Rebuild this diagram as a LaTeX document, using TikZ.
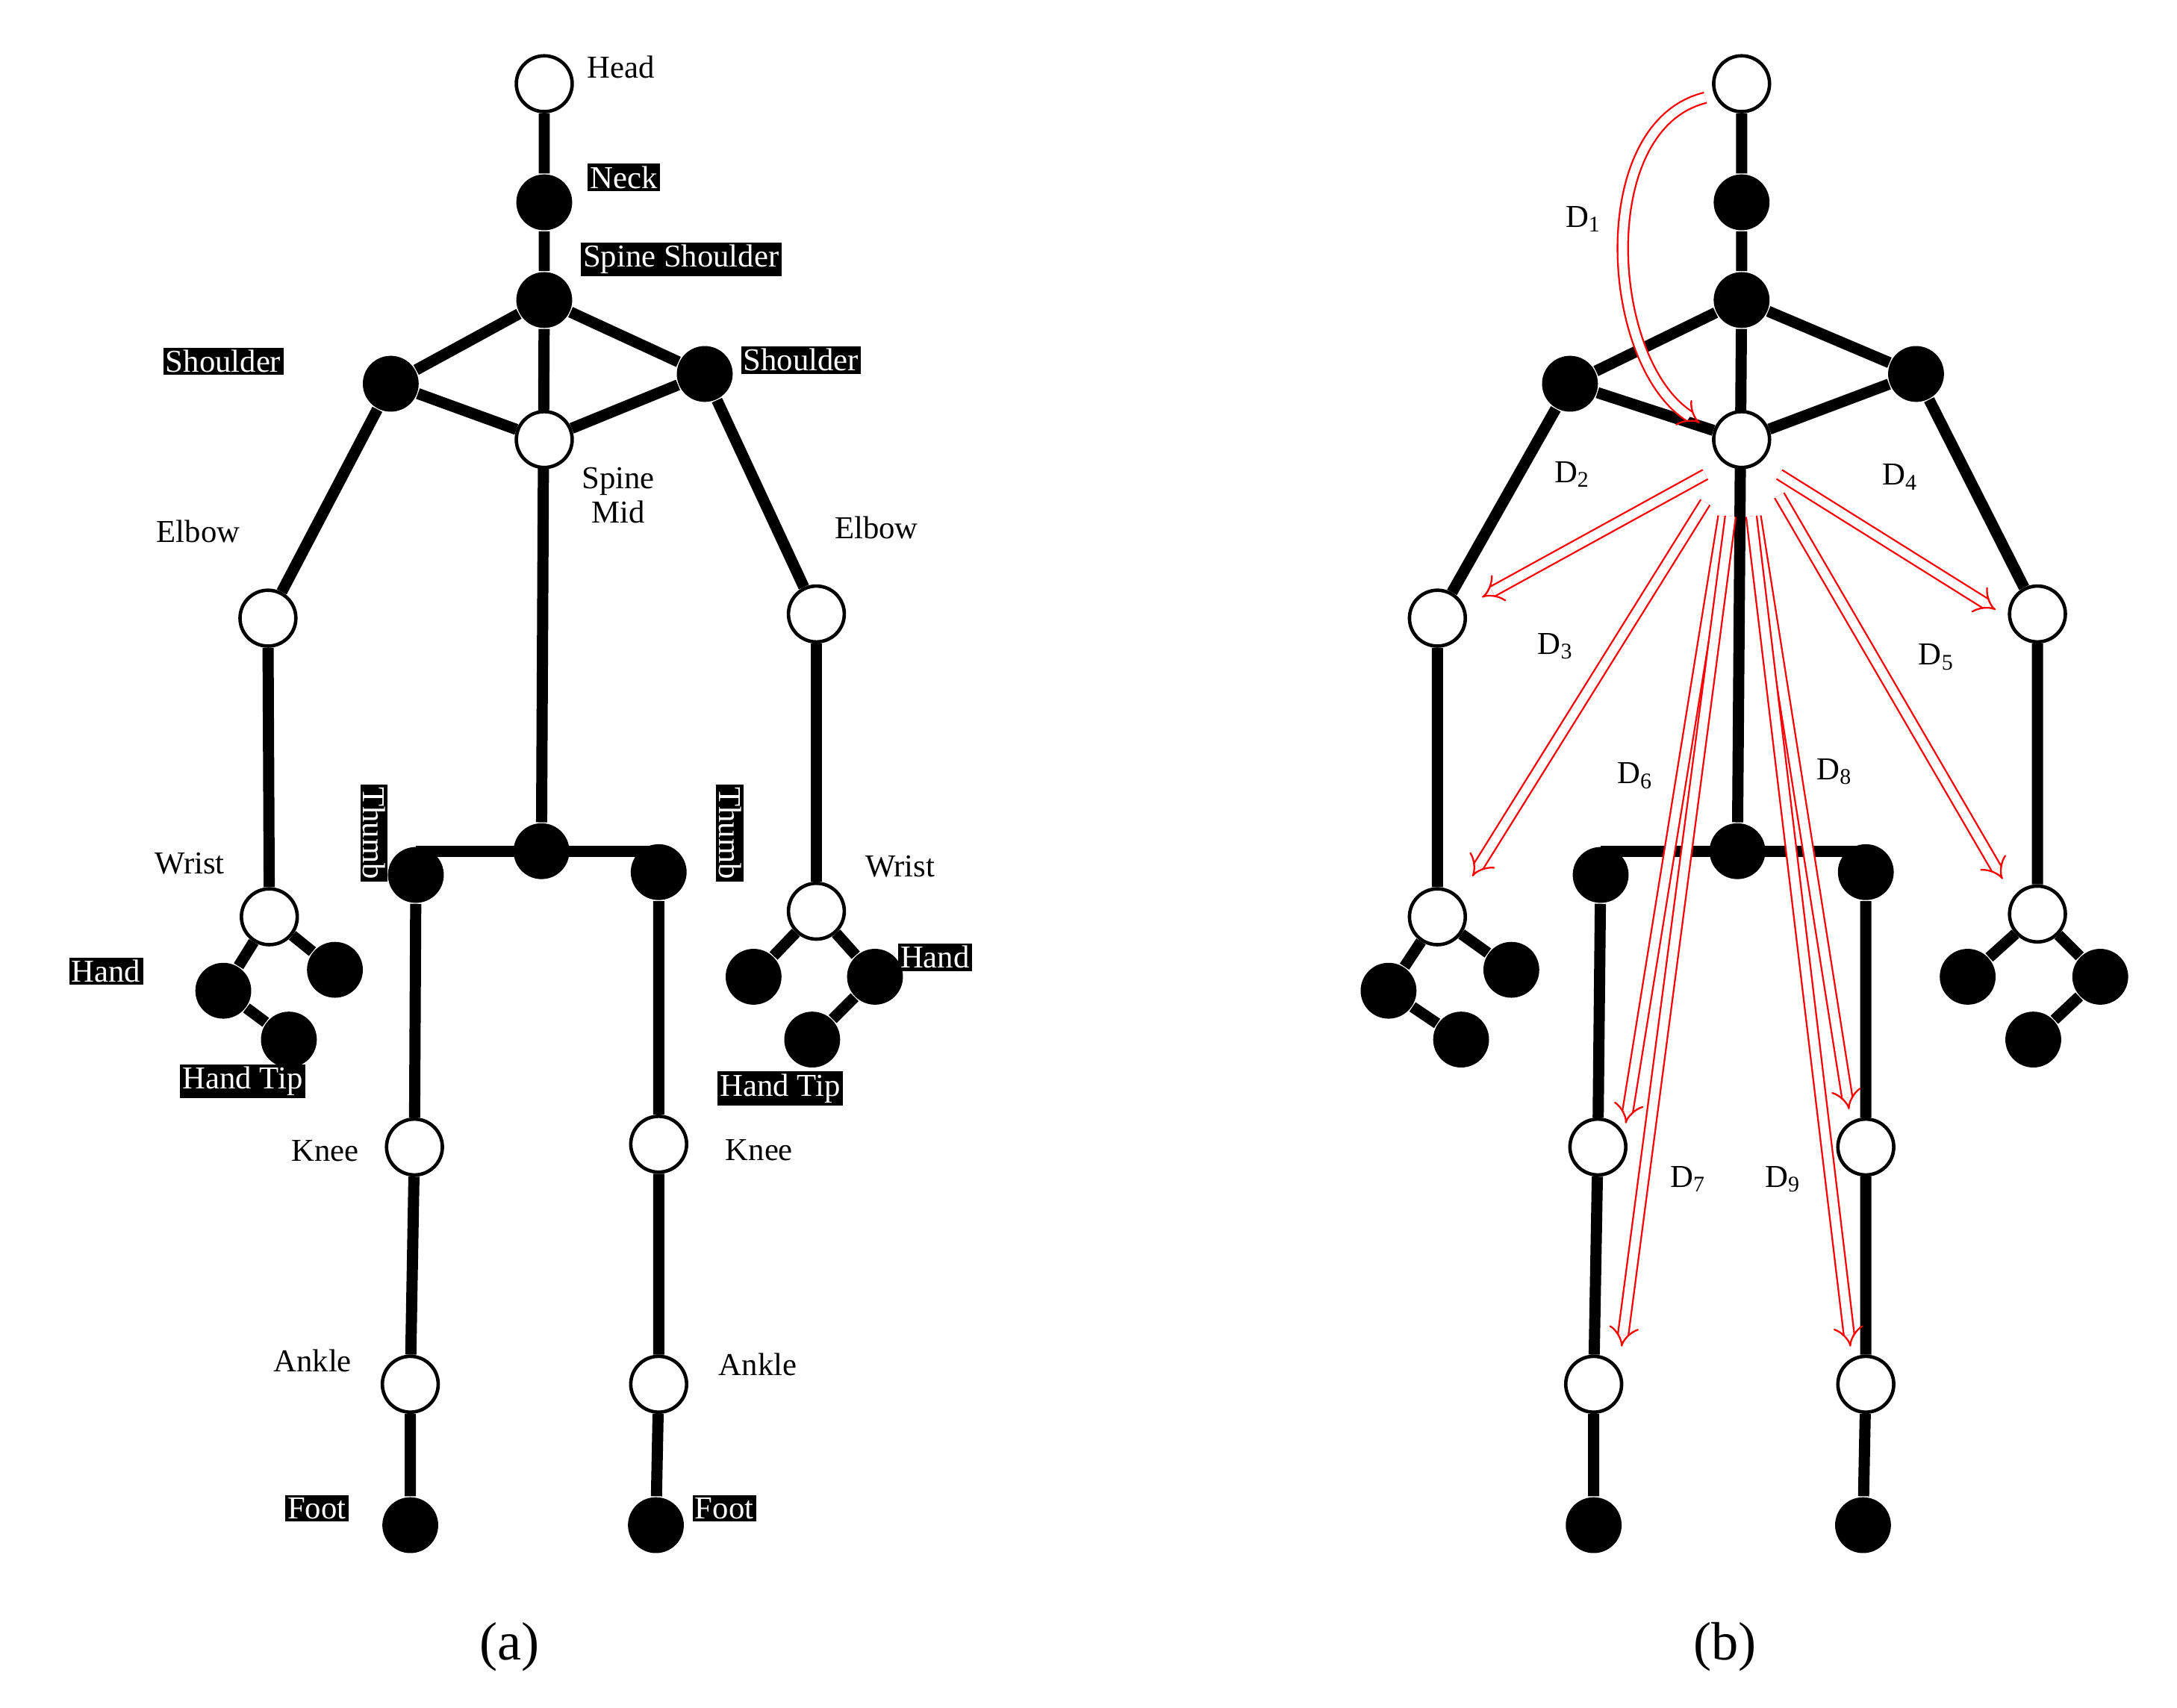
\documentclass[tikz,border=0pt]{standalone}
\usepackage{fontspec}
\setmainfont{Liberation Serif}
\usetikzlibrary{arrows.meta,backgrounds}
\tikzset{w_style/.style={circle, draw, fill=white, line width=0.7pt, minimum size=0.4cm, inner sep=0pt},
         b_style/.style={circle, fill=black, minimum size=0.4cm, inner sep=0pt},
         bone/.style={line width=0.08cm},
         lbl/.style={font=\fontsize{6.5}{7}\selectfont, inner sep=0.5pt},
         blbl/.style={lbl, fill=black, text=white},
         darr/.style={red, double=white, double distance=1.8pt, line width=0.35pt, -{Implies[length=4pt]}}}
\begin{document}
\begin{tikzpicture}[x=0.01cm, y=-0.01cm]
    \useasboundingbox (0,0) rectangle (1560,1224);

    % skeleton (a)
    \node[w_style] (ah) at (390,60) {};
    \node[b_style] (an) at (390,145) {};
    \node[b_style] (ass) at (390,215) {};
    \node[b_style] (asl) at (280,275) {};
    \node[b_style] (asr) at (505,268) {};
    \node[w_style] (asm) at (390,315) {};
    \node[w_style] (ael) at (192,443) {};
    \node[w_style] (aer) at (585,440) {};
    \node[w_style] (awl) at (193,657) {};
    \node[w_style] (awr) at (585,653) {};
    \node[b_style] (atl) at (240,695) {};
    \node[b_style] (ahl) at (160,710) {};
    \node[b_style] (apl) at (207,745) {};
    \node[b_style] (atr) at (540,700) {};
    \node[b_style] (ahr) at (627,700) {};
    \node[b_style] (apr) at (582,745) {};
    \node[b_style] (asb) at (388,610) {};
    \node[b_style] (ahipl) at (298,627) {};
    \node[b_style] (ahipr) at (472,625) {};
    \node[w_style] (akl) at (297,822) {};
    \node[w_style] (akr) at (472,820) {};
    \node[w_style] (aal) at (294,992) {};
    \node[w_style] (aar) at (472,992) {};
    \node[b_style] (afl) at (294,1093) {};
    \node[b_style] (afr) at (470,1093) {};

    % skeleton (b)
    \node[w_style] (bh) at (1248,60) {};
    \node[b_style] (bn) at (1248,145) {};
    \node[b_style] (bss) at (1248,215) {};
    \node[b_style] (bsl) at (1125,275) {};
    \node[b_style] (bsr) at (1373,268) {};
    \node[w_style] (bsm) at (1248,315) {};
    \node[w_style] (bel) at (1030,443) {};
    \node[w_style] (ber) at (1460,440) {};
    \node[w_style] (bwl) at (1030,657) {};
    \node[w_style] (bwr) at (1460,655) {};
    \node[b_style] (btl) at (1083,695) {};
    \node[b_style] (bhl) at (995,710) {};
    \node[b_style] (bpl) at (1047,745) {};
    \node[b_style] (btr) at (1410,700) {};
    \node[b_style] (bhr) at (1505,700) {};
    \node[b_style] (bpr) at (1457,745) {};
    \node[b_style] (bsb) at (1245,610) {};
    \node[b_style] (bhipl) at (1147,627) {};
    \node[b_style] (bhipr) at (1337,625) {};
    \node[w_style] (bkl) at (1145,822) {};
    \node[w_style] (bkr) at (1337,822) {};
    \node[w_style] (bal) at (1142,992) {};
    \node[w_style] (bar) at (1337,992) {};
    \node[b_style] (bfl) at (1142,1093) {};
    \node[b_style] (bfr) at (1335,1093) {};

    \begin{scope}[on background layer]
        \foreach \s in {a,b} {
            \draw[bone] (\s h) -- (\s n) -- (\s ss) -- (\s sb);
            \draw[bone] (\s sl) -- (\s ss) -- (\s sr);
            \draw[bone] (\s sl) -- (\s sm) -- (\s sr);
            \draw[bone] (\s sl) -- (\s el) -- (\s wl);
            \draw[bone] (\s sr) -- (\s er) -- (\s wr);
            \draw[bone] (\s hipl) -- (\s kl) -- (\s al) -- (\s fl);
            \draw[bone] (\s hipr) -- (\s kr) -- (\s ar) -- (\s fr);
            \draw[bone] (\s hipl |- \s sb) -- (\s hipr |- \s sb);
        }
        \draw[bone] (awl) -- (atl);
        \draw[bone] (awl) -- (ahl) -- (apl);
        \draw[bone] (awr) -- (atr);
        \draw[bone] (awr) -- (ahr) -- (apr);
        \draw[bone] (bwl) -- (btl);
        \draw[bone] (bwl) -- (bhl) -- (bpl);
        \draw[bone] (bwr) -- (btr);
        \draw[bone] (bwr) -- (bhr) -- (bpr);
    \end{scope}

    % labels (a)
    \node[lbl] (lhead) at (445,48) {Head};
    \node[blbl] (lneck) at (447,127) {Neck};
    \node[blbl] (lss) at (488,186) {Spine Shoulder};
    \node[blbl] (lsl) at (160,259) {Shoulder};
    \node[blbl] (lsr) at (574,258) {Shoulder};
    \node[lbl, align=center] (lsm) at (443,355) {Spine\\Mid};
    \node[lbl] (lel) at (142,381) {Elbow};
    \node[lbl] (ler) at (628,378) {Elbow};
    \node[lbl] (lwl) at (136,619) {Wrist};
    \node[lbl] (lwr) at (645,621) {Wrist};
    \node[blbl, rotate=-90] (ltl) at (268,597) {Thumb};
    \node[blbl, rotate=-90] (ltr) at (523,597) {Thumb};
    \node[blbl] (lhl) at (76,696) {Hand};
    \node[blbl] (lhr) at (670,686) {Hand};
    \node[blbl] (lpl) at (174,775) {Hand Tip};
    \node[blbl] (lpr) at (559,780) {Hand Tip};
    \node[lbl] (lkl) at (233,825) {Knee};
    \node[lbl] (lkr) at (544,824) {Knee};
    \node[lbl] (lal) at (224,975) {Ankle};
    \node[lbl] (lar) at (543,978) {Ankle};
    \node[blbl] (lfl) at (227,1081) {Foot};
    \node[blbl] (lfr) at (519,1081) {Foot};
    \node[font=\fontsize{11}{12}\selectfont] (capa) at (365,1180) {(a)};
    \node[font=\fontsize{11}{12}\selectfont] (capb) at (1236,1180) {(b)};

    % distances (b)
    \coordinate (d1s) at (1222,70);
    \coordinate (d1e) at (1218,303);
    \draw[darr] (d1s) .. controls (1140,90) and (1150,260) .. (d1e);
    \foreach \n/\sx/\sy/\ex/\ey in {2/1222/340/1062/428, 3/1222/360/1055/628,
        4/1275/340/1430/437, 5/1275/355/1435/630, 6/1235/370/1165/805,
        7/1240/370/1162/965, 8/1258/370/1325/795, 9/1255/370/1326/965} {
        \coordinate (d\n s) at (\sx,\sy);
        \coordinate (d\n e) at (\ex,\ey);
        \draw[darr] (d\n s) -- (d\n e);
    }
    \foreach \n/\x/\y in {1/1135/157, 2/1127/340, 3/1115/463, 4/1362/342, 5/1388/471,
        6/1172/556, 7/1210/845, 8/1315/553, 9/1278/845}
        \node[lbl] (ld\n) at (\x,\y) {D\textsubscript{\n}};
\end{tikzpicture}
\end{document}
